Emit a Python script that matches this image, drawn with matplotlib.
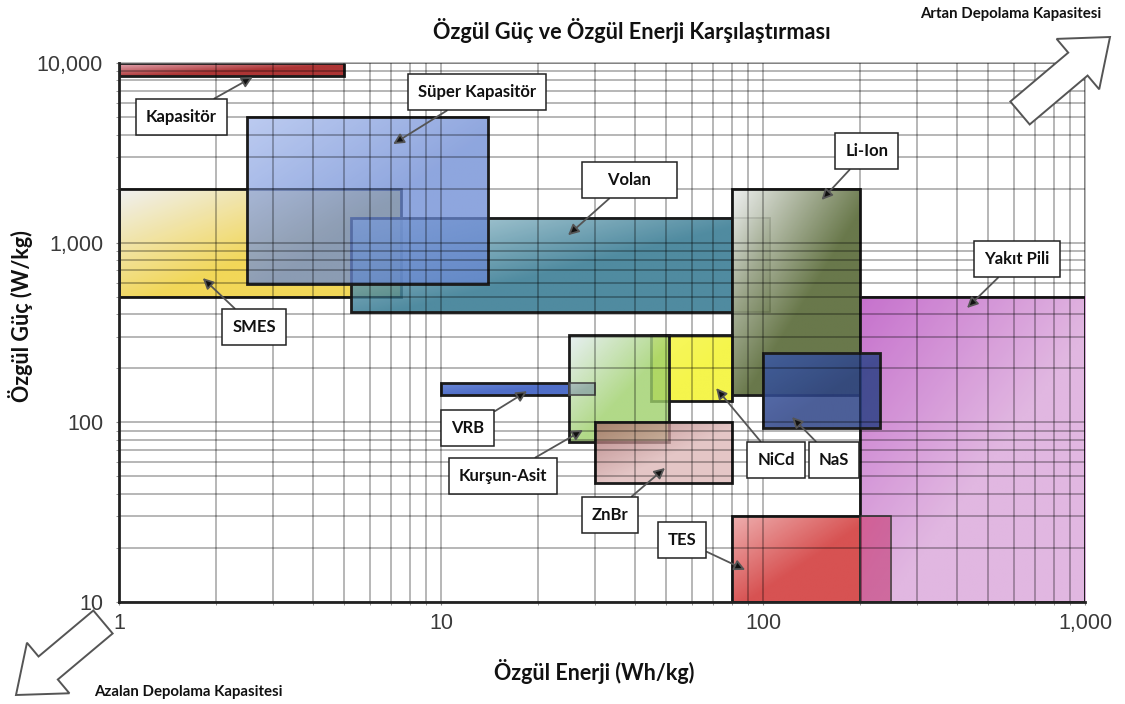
import numpy as np
from matplotlib import pyplot
from matplotlib.colors import to_rgb
from matplotlib.patches import Rectangle, FancyArrow
from matplotlib.ticker import FixedLocator, FuncFormatter, LogLocator, NullFormatter

# storage technologies: specific energy (Wh/kg) and specific power (W/kg) ranges
techs = ['Kapasitör', 'SMES', 'Volan', 'Süper Kapasitör', 'Li-Ion', 'Yakıt Pili',
         'NiCd', 'Kurşun-Asit', 'VRB', 'ZnBr', 'NaS', 'TES']
energy_min = [1, 1, 5.25, 2.5, 80, 200, 45, 25, 10, 30, 100, 80]
energy_max = [5, 7.5, 80, 14, 200, 1000, 80, 51, 25, 80, 230, 200]
power_min = [8500, 500, 410, 590, 142, 10, 132, 78, 142, 46, 93, 10]
power_max = [10000, 2000, 1380, 5000, 2000, 500, 305, 305, 165, 100, 243, 30]
# lighter extension of some ranges
ext_energy_max = {'Volan': 105, 'VRB': 30, 'TES': 250}

x_ticks = [1, 10, 100, 1000]
y_ticks = [10, 100, 1000, 10000]

# (top-left colour, bottom-right colour, alpha)
styles = {
    'Kapasitör': ('#e2a2b0', '#a41e1e', 0.9),
    'SMES': ('#eeeef0', '#f0d03a', 0.85),
    'Volan': ('#b4d2dc', '#30768f', 0.85),
    'Süper Kapasitör': ('#a6baec', '#6988d3', 0.75),
    'Li-Ion': ('#eceeee', '#4e602a', 0.85),
    'Yakıt Pili': ('#bc58c4', '#dcaadc', 0.85),
    'NiCd': ('#f6f650', '#f4f438', 0.9),
    'Kurşun-Asit': ('#e2ecf0', '#9ed06a', 0.8),
    'VRB': ('#5a7ad2', '#3c5ec2', 0.9),
    'ZnBr': ('#a46464', '#dcb4b4', 0.75),
    'NaS': ('#3c5aa8', '#2c4286', 0.85),
    'TES': ('#eca4a4', '#d23a3a', 0.88),
}
ext_styles = {
    'Volan': ('#e8ecec', '#6f7e56', 0.55),
    'VRB': ('#9aaab8', '#7890a0', 0.6),
    'TES': ('#d2467a', '#c84a82', 0.7),
}

# label text position and arrow target (data coords)
labels = {
    'Kapasitör': ((1.56, 5000), (2.6, 8350)),
    'Süper Kapasitör': ((12.9, 6890), (7.1, 3540)),
    '    Volan    ': ((38.6, 2230), (24.8, 1100)),
    'Li-Ion': ((210, 3230), (152, 1730)),
    'Yakıt Pili': ((615, 810), (430, 433)),
    'SMES': ((2.63, 339), (1.82, 635)),
    'VRB': ((12.1, 93), (18.5, 149)),
    'Kurşun-Asit': ((15.6, 50.2), (27.6, 90.6)),
    'ZnBr': ((33.5, 30.5), (49.6, 55.7)),
    'TES': ((56, 22.1), (88, 15.1)),
    'NiCd': ((109.7, 61.7), (71.5, 155)),
    'NaS': ((166, 61.7), (123, 107)),
}

LABEL_FONT = 'Lato'


def _gradient_box(ax, x0, x1, y0, y1, c_tl, c_br, alpha, z, edge='#1c1c1c', lw=2.0):
    # box corners in axes fraction, so the image is a plain rectangle
    to_axes = ax.transData + ax.transAxes.inverted()
    (ax0, ay0), (ax1, ay1) = to_axes.transform([(x0, y0), (x1, y1)])
    n = 80
    u = np.linspace(0, 1, n)[None, :]
    v = np.linspace(0, 1, n)[:, None]
    t = np.clip((u + v) * 0.9, 0, 1)[..., None]
    rgb = np.array(to_rgb(c_tl)) * (1 - t) + np.array(to_rgb(c_br)) * t
    img = np.concatenate([rgb, np.full((n, n, 1), alpha)], axis=2)
    ax.imshow(img, extent=(ax0, ax1, ay0, ay1), transform=ax.transAxes, aspect='auto',
              interpolation='bilinear', origin='upper', zorder=z)
    ax.add_patch(Rectangle((x0, y0), x1 - x0, y1 - y0, fill=False,
                           edgecolor=edge, linewidth=lw, zorder=z + 0.1))


def _plot_techs(ax):
    z = 2
    for i, name in enumerate(techs):
        c_tl, c_br, a = styles[name]
        _gradient_box(ax, energy_min[i], energy_max[i], power_min[i], power_max[i],
                      c_tl, c_br, a, z)
        z += 0.5
        if name in ext_energy_max:
            e_tl, e_br, ea = ext_styles[name]
            _gradient_box(ax, energy_max[i], ext_energy_max[name], power_min[i], power_max[i],
                          e_tl, e_br, ea, z, edge='#4a4a4a', lw=1.2)
            z += 0.5


def _plot_labels(ax):
    for text, (txy, hxy) in labels.items():
        ax.annotate(text, xy=hxy, xytext=txy, ha='center', va='center',
                    fontsize=12, fontweight='bold', family=LABEL_FONT, color='#111111',
                    bbox=dict(boxstyle='square,pad=0.6', fc='white', ec='#222222', lw=1.1),
                    arrowprops=dict(arrowstyle='-|>', mutation_scale=16, lw=1.3,
                                    ec='#555555', fc='#111111', shrinkA=0, shrinkB=0),
                    zorder=20)


fig = pyplot.figure(figsize=(11.25, 7.04), dpi=100)
ax = fig.add_axes([0.1058, 0.1449, 0.8587, 0.7656])
ax.set_xscale('log')
ax.set_yscale('log')
ax.set_xlim(x_ticks[0], x_ticks[-1])
ax.set_ylim(y_ticks[0], y_ticks[-1])
ax.set_autoscale_on(False)

# grid lies over the translucent boxes, darkening them like the original
ax.grid(which='both', color='black', alpha=0.36, linewidth=1.1)
ax.xaxis.set_zorder(15)
ax.yaxis.set_zorder(15)
ax.xaxis.set_major_locator(FixedLocator(x_ticks))
ax.yaxis.set_major_locator(FixedLocator(y_ticks))
ax.xaxis.set_minor_locator(LogLocator(base=10, subs=range(2, 10)))
ax.yaxis.set_minor_locator(LogLocator(base=10, subs=range(2, 10)))
ax.xaxis.set_minor_formatter(NullFormatter())
ax.yaxis.set_minor_formatter(NullFormatter())
fmt = FuncFormatter(lambda v, p: f'{int(round(v)):,}')
ax.xaxis.set_major_formatter(fmt)
ax.yaxis.set_major_formatter(fmt)
ax.tick_params(which='both', length=2, color='#888888')
ax.tick_params(axis='x', pad=6, labelsize=15.5, labelcolor='#3a3a3a')
ax.tick_params(axis='y', pad=9.5, labelsize=15.5, labelcolor='#3a3a3a')
for lab in ax.get_xticklabels() + ax.get_yticklabels():
    lab.set_family('Liberation Sans')

for side in ['top', 'right']:
    ax.spines[side].set_color('#a3a3a3')
    ax.spines[side].set_linewidth(1.1)
for side in ['left', 'bottom']:
    ax.spines[side].set_color('#222222')
    ax.spines[side].set_linewidth(2)
    ax.spines[side].set_zorder(16)

_plot_techs(ax)
_plot_labels(ax)

fig.text(0.5618, 0.956, 'Özgül Güç ve Özgül Enerji Karşılaştırması', ha='center', va='center',
         fontsize=15.6, fontweight='bold', family=LABEL_FONT, color='#111111')
fig.text(0.528, 0.0455, 'Özgül Enerji (Wh/kg)', ha='center', va='center',
         fontsize=15.5, fontweight='bold', family=LABEL_FONT, color='#111111')
fig.text(0.018, 0.551, 'Özgül Güç (W/kg)', ha='center', va='center', rotation=90,
         fontsize=15.5, fontweight='bold', family=LABEL_FONT, color='#111111')
fig.text(0.898, 0.980, 'Artan Depolama Kapasitesi', ha='center', va='center',
         fontsize=10.8, fontweight='bold', family=LABEL_FONT, color='#111111')
fig.text(0.167, 0.017, 'Azalan Depolama Kapasitesi', ha='center', va='center',
         fontsize=10.8, fontweight='bold', family=LABEL_FONT, color='#111111')

# hollow block arrows (inches)
for (x, y, dx, dy) in [(10.20, 7.04 - 1.13, 0.90, 0.76), (1.03, 7.04 - 6.22, -0.87, -0.73)]:
    arr = FancyArrow(x, y, dx, dy, width=0.30, head_width=0.66, head_length=0.42,
                     length_includes_head=True, transform=fig.dpi_scale_trans,
                     facecolor='white', edgecolor='#555555', linewidth=1.4)
    fig.add_artist(arr)

fig.savefig('out.png', dpi=100)
